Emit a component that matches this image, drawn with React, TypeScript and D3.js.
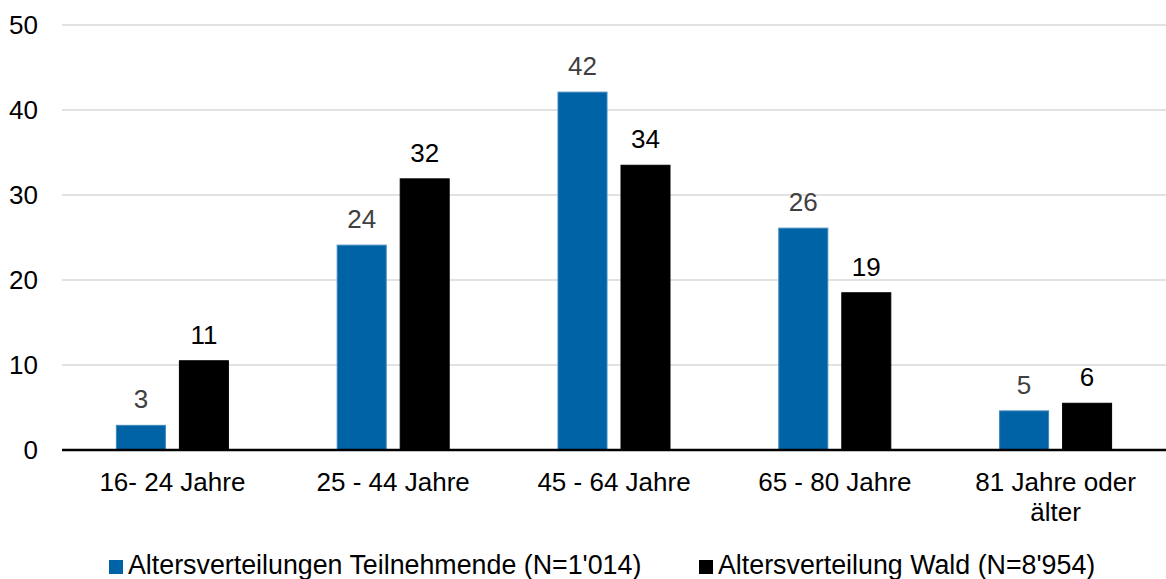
import React, { useEffect, useRef } from 'react';
import * as d3 from 'd3';

const categories = ['16- 24 Jahre', '25 - 44 Jahre', '45 - 64 Jahre', '65 - 80 Jahre', '81 Jahre oder\nälter'];
const teilnehmende = [2.9, 24.1, 42.1, 26.1, 4.6];
const wald = [10.5, 31.9, 33.5, 18.5, 5.5];
const teilnehmendeLabels = ['3', '24', '42', '26', '5'];
const waldLabels = ['11', '32', '34', '19', '6'];
const yTicks = [0, 10, 20, 30, 40, 50];

const seriesNames = ['Altersverteilungen Teilnehmende (N=1\'014)', 'Altersverteilung Wald (N=8\'954)'];

const width = 1166;
const height = 579;
const FONT = 'Liberation Sans, Arial, sans-serif';

export default function App() {
  const svgRef = useRef<SVGSVGElement>(null);

  useEffect(() => {
    document.body.style.margin = '0';
    document.body.style.overflow = 'hidden';
    if (!svgRef.current) return;
    const root = d3.select(svgRef.current);
    root.selectAll('*').remove();

    const margin = { left: 62, right: 0, top: 25, bottom: 129 };

    const x = d3
      .scaleBand<string>()
      .domain(categories)
      .range([margin.left, width - margin.right]);

    const y = d3
      .scaleLinear()
      .domain([0, 50])
      .range([height - margin.bottom, margin.top]);

    const barW = 49;
    const gap = 14;

    // gridlines
    root
      .append('g')
      .selectAll('line')
      .data(yTicks.filter((t) => t > 0))
      .enter()
      .append('line')
      .attr('x1', margin.left)
      .attr('x2', width - margin.right)
      .attr('y1', (d) => y(d))
      .attr('y2', (d) => y(d))
      .attr('stroke', '#d9d9d9')
      .attr('stroke-width', 1.5);

    // y tick labels
    root
      .append('g')
      .selectAll('text')
      .data(yTicks)
      .enter()
      .append('text')
      .attr('x', 38)
      .attr('y', (d) => y(d) + 9)
      .attr('text-anchor', 'end')
      .style('font-family', FONT)
      .style('font-size', '26px')
      .style('fill', '#000')
      .text((d) => d);

    const series = [
      { values: teilnehmende, labels: teilnehmendeLabels, color: '#0063a6', stroke: '#3f87bd', labelColor: '#404040', offset: 0 },
      { values: wald, labels: waldLabels, color: '#000000', stroke: '#000000', labelColor: '#000000', offset: 1 },
    ];

    series.forEach((s) => {
      const g = root.append('g');
      const barX = (i: number) =>
        (x(categories[i]) as number) + x.bandwidth() / 2 - (barW * 2 + gap) / 2 + s.offset * (barW + gap);

      g.selectAll('rect')
        .data(s.values)
        .enter()
        .append('rect')
        .attr('x', (d, i) => barX(i))
        .attr('y', (d) => y(d))
        .attr('width', barW)
        .attr('height', (d) => y(0) - y(d))
        .attr('fill', s.color)
        .attr('stroke', s.stroke)
        .attr('stroke-width', 1);

      g.selectAll('text')
        .data(s.values)
        .enter()
        .append('text')
        .attr('x', (d, i) => barX(i) + barW / 2)
        .attr('y', (d) => y(d) - 17)
        .attr('text-anchor', 'middle')
        .style('font-family', FONT)
        .style('font-size', '26px')
        .style('fill', s.labelColor)
        .text((d, i) => s.labels[i]);
    });

    // baseline
    root
      .append('line')
      .attr('x1', margin.left)
      .attr('x2', width - margin.right)
      .attr('y1', y(0))
      .attr('y2', y(0))
      .attr('stroke', '#000')
      .attr('stroke-width', 2.5);

    // category labels
    const cat = root
      .append('g')
      .selectAll('text')
      .data(categories)
      .enter()
      .append('text')
      .attr('text-anchor', 'middle')
      .style('font-family', FONT)
      .style('font-size', '26px')
      .style('fill', '#000');

    cat.each(function (d) {
      const t = d3.select(this);
      d.split('\n').forEach((line, k) => {
        t.append('tspan')
          .attr('x', (x(d) as number) + x.bandwidth() / 2)
          .attr('y', 491 + k * 30)
          .text(line);
      });
    });

    // legend
    const legendX = [109, 699];
    const legend = root
      .selectAll('.legend')
      .data(seriesNames)
      .enter()
      .append('g')
      .attr('class', 'legend')
      .attr('transform', (d, i) => `translate(${legendX[i]}, 560)`);

    legend
      .append('rect')
      .attr('width', 14)
      .attr('height', 14)
      .attr('fill', (d, i) => series[i].color);

    legend
      .append('text')
      .attr('x', 19)
      .attr('y', 14)
      .style('font-family', FONT)
      .style('font-size', '26.8px')
      .style('fill', '#000')
      .text((d) => d);
  }, []);

  return (
    <div>
      <svg ref={svgRef} width={width} height={height} style={{ display: 'block' }}></svg>
    </div>
  );
}
